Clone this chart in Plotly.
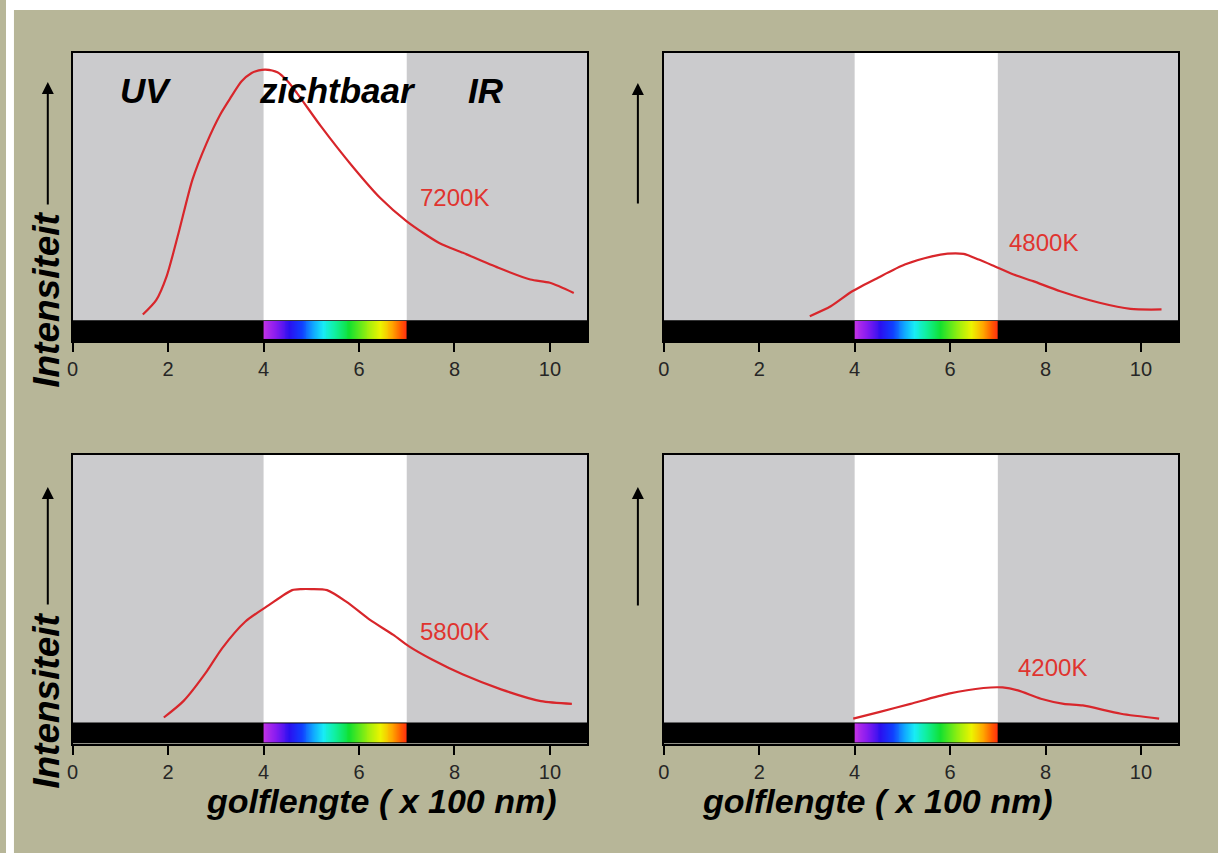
import numpy as np
import plotly.graph_objects as go

W, H = 1223, 853

# ---------------- data ----------------
x7200 = [1.47, 1.75, 1.97, 2.22, 2.51, 2.80, 3.09, 3.30, 3.54, 3.75, 3.90, 4.04, 4.29, 4.50, 4.70, 5.20, 5.86, 6.44, 7.00, 7.68, 8.18, 8.92, 9.59, 10.00, 10.50]
y7200 = [2.1, 7.5, 16.5, 32.7, 52.6, 66.0, 76.9, 83.0, 89.4, 92.5, 93.5, 93.8, 92.8, 89.5, 85.0, 72.6, 57.6, 45.8, 37.0, 28.9, 25.2, 19.6, 15.2, 14.0, 10.2]

x4800 = [3.06, 3.50, 3.95, 4.48, 5.05, 5.62, 5.95, 6.28, 6.60, 6.93, 7.33, 7.74, 8.31, 9.13, 9.78, 10.43]
y4800 = [1.5, 5.2, 10.8, 15.8, 20.8, 23.9, 24.9, 24.8, 22.7, 20.2, 17.1, 14.6, 10.8, 6.5, 4.2, 4.0]

x5800 = [1.91, 2.32, 2.81, 3.13, 3.62, 4.11, 4.60, 4.80, 5.00, 5.33, 5.74, 6.23, 6.72, 7.04, 7.53, 8.18, 8.99, 9.81, 10.46]
y5800 = [1.9, 8.0, 19.1, 27.7, 37.7, 43.8, 49.4, 49.8, 49.8, 49.4, 45.0, 38.3, 32.7, 28.5, 23.5, 17.9, 12.3, 8.0, 7.0]

x4200 = [3.97, 4.53, 5.17, 5.97, 6.70, 7.10, 7.42, 7.90, 8.38, 8.78, 9.58, 10.38]
y4200 = [1.5, 4.0, 7.0, 10.8, 12.9, 13.1, 12.0, 8.9, 7.0, 6.4, 3.3, 1.5]

temp_labels = ["7200K", "4800K", "5800K", "4200K"]
label_x = [8.0, 7.96, 8.0, 8.15]
label_y = [46.0, 29.0, 34.0, 20.5]

tick_vals = [0, 2, 4, 6, 8, 10]
tick_text = ["0", "2", "4", "6", "8", "10"]

region_labels = ["UV", "zichtbaar", "IR"]
region_x = [1.52, 5.55, 8.66]
region_y = [86, 86, 86]

visible_range = [4, 7]

# spectrum colour stops (wavelength in x100 nm)
spec_w = [4.0, 4.25, 4.55, 4.8, 5.05, 5.25, 5.5, 5.8, 6.15, 6.45, 6.7, 6.88, 7.0]
spec_c = ["#c232e6", "#8a1cf0", "#2a10f0", "#1040ff", "#10a8ff", "#18ecf6", "#10f0a0",
          "#10e030", "#90ee10", "#ecf400", "#ffa800", "#ff5a00", "#ff2e10"]

# ---------------- styling ----------------
OLIVE = "#b7b698"
GRAY = "#cbcbcd"
RED = "#d8262b"
XMAX = 10.78
YMIN, YMAX = -7.8, 100
FONT = "Liberation Sans, Arial, sans-serif"

series = [(x7200, y7200), (x4800, y4800), (x5800, y5800), (x4200, y4200)]

# pixel boxes of the four panels (left, right, top, bottom)
boxes = [(67, 584, 53, 341), (661, 1178, 53, 341), (67, 584, 454.5, 743.5), (661, 1178, 454.5, 743.5)]

fig = go.Figure()
layout = dict(width=W, height=H, autosize=False,
              margin=dict(l=0, r=0, t=0, b=0, pad=0),
              paper_bgcolor=OLIVE, plot_bgcolor=GRAY,
              showlegend=False, shapes=[], annotations=[],
              font=dict(family=FONT))

cs_lo, cs_hi = spec_w[0], spec_w[-1]
colorscale = [[(w - cs_lo) / (cs_hi - cs_lo), c] for w, c in zip(spec_w, spec_c)]
edges = np.linspace(cs_lo, cs_hi, 151)
centers = (edges[:-1] + edges[1:]) / 2

for i, ((xs, ys), (l, r, t, b)) in enumerate(zip(series, boxes)):
    k = "" if i == 0 else str(i + 1)
    xa, ya = "x" + k, "y" + k
    layout["xaxis" + k] = dict(domain=[l / W, r / W], anchor=ya, range=[0, XMAX],
                               tickvals=tick_vals, ticktext=tick_text,
                               ticks="outside", ticklen=9, tickwidth=2, tickcolor="black",
                               showline=True, linecolor="black", linewidth=2, mirror=True,
                               showgrid=False, zeroline=False, fixedrange=True,
                               tickfont=dict(size=20, color="#262626", family=FONT))
    layout["yaxis" + k] = dict(domain=[1 - b / H, 1 - t / H], anchor=xa, range=[YMIN, YMAX],
                               showticklabels=False, ticks="",
                               showline=True, linecolor="black", linewidth=2, mirror=True,
                               showgrid=False, zeroline=False, fixedrange=True)
    # white visible band
    layout["shapes"].append(dict(type="rect", xref=xa, yref=ya, x0=visible_range[0], x1=visible_range[1],
                                 y0=0, y1=YMAX, fillcolor="white", line=dict(width=0), layer="below"))
    # black bar
    layout["shapes"].append(dict(type="rect", xref=xa, yref=ya, x0=0, x1=XMAX,
                                 y0=YMIN, y1=0, fillcolor="black", line=dict(width=0), layer="below"))
    # spectrum strip
    fig.add_trace(go.Heatmap(x=edges, y=[YMIN + 0.6, -0.3], z=[centers], colorscale=colorscale,
                             zmin=cs_lo, zmax=cs_hi, showscale=False, hoverinfo="skip",
                             xaxis=xa, yaxis=ya))
    # curve
    fig.add_trace(go.Scatter(x=xs, y=ys, mode="lines",
                             line=dict(color=RED, width=2.2, shape="spline", smoothing=0.7),
                             xaxis=xa, yaxis=ya, hoverinfo="skip"))
    layout["annotations"].append(dict(xref=xa, yref=ya, x=label_x[i], y=label_y[i],
                                      xanchor="center", yanchor="middle",
                                      text=temp_labels[i], showarrow=False,
                                      font=dict(size=24, color="#e0342f", family=FONT)))

# region labels in first panel
for txt, rx, ry in zip(region_labels, region_x, region_y):
    layout["annotations"].append(dict(xref="x", yref="y", x=rx, y=ry, text=txt, showarrow=False,
                                      xanchor="center", yanchor="middle",
                                      font=dict(size=35, color="black", weight="bold", style="italic",
                                                family=FONT)))

# Intensiteit labels (left panels) and arrows (all panels)
for cy in [300, 701]:
    layout["annotations"].append(dict(xref="paper", yref="paper", x=40 / W, y=1 - cy / H,
                                      xanchor="center", yanchor="middle",
                                      text="Intensiteit", textangle=-90, showarrow=False,
                                      font=dict(size=37, color="black", weight="bold", style="italic",
                                                family=FONT)))
for ax_x, tip_y, tail_y in [(42, 82, 206), (635, 83, 205), (42, 487, 606), (635, 487, 607)]:
    layout["annotations"].append(dict(xref="paper", yref="paper", x=ax_x / W, y=1 - tip_y / H,
                                      ax=0, ay=tail_y - tip_y, text="", showarrow=True,
                                      arrowhead=2, arrowsize=1.2, arrowwidth=2, arrowcolor="black"))

# x-axis titles under bottom panels
for cx in [377, 876]:
    layout["annotations"].append(dict(xref="paper", yref="paper", x=cx / W, y=1 - 801 / H,
                                      xanchor="center", yanchor="middle",
                                      text="golflengte ( x 100 nm)", showarrow=False,
                                      font=dict(size=34, color="black", weight="bold", style="italic",
                                                family=FONT)))

# white frame around the olive background
for x0, x1, y0, y1 in [(0, 8, 0, H), (1218, W, 0, H), (0, W, 0, 10)]:
    layout["shapes"].append(dict(type="rect", xref="paper", yref="paper",
                                 x0=x0 / W, x1=x1 / W, y0=1 - y1 / H, y1=1 - y0 / H,
                                 fillcolor="white", line=dict(width=0), layer="above"))

fig.update_layout(**layout)
fig.write_html("out.html", config={"displayModeBar": False},
               post_script="document.body.style.margin='0';document.body.style.overflow='hidden';")
